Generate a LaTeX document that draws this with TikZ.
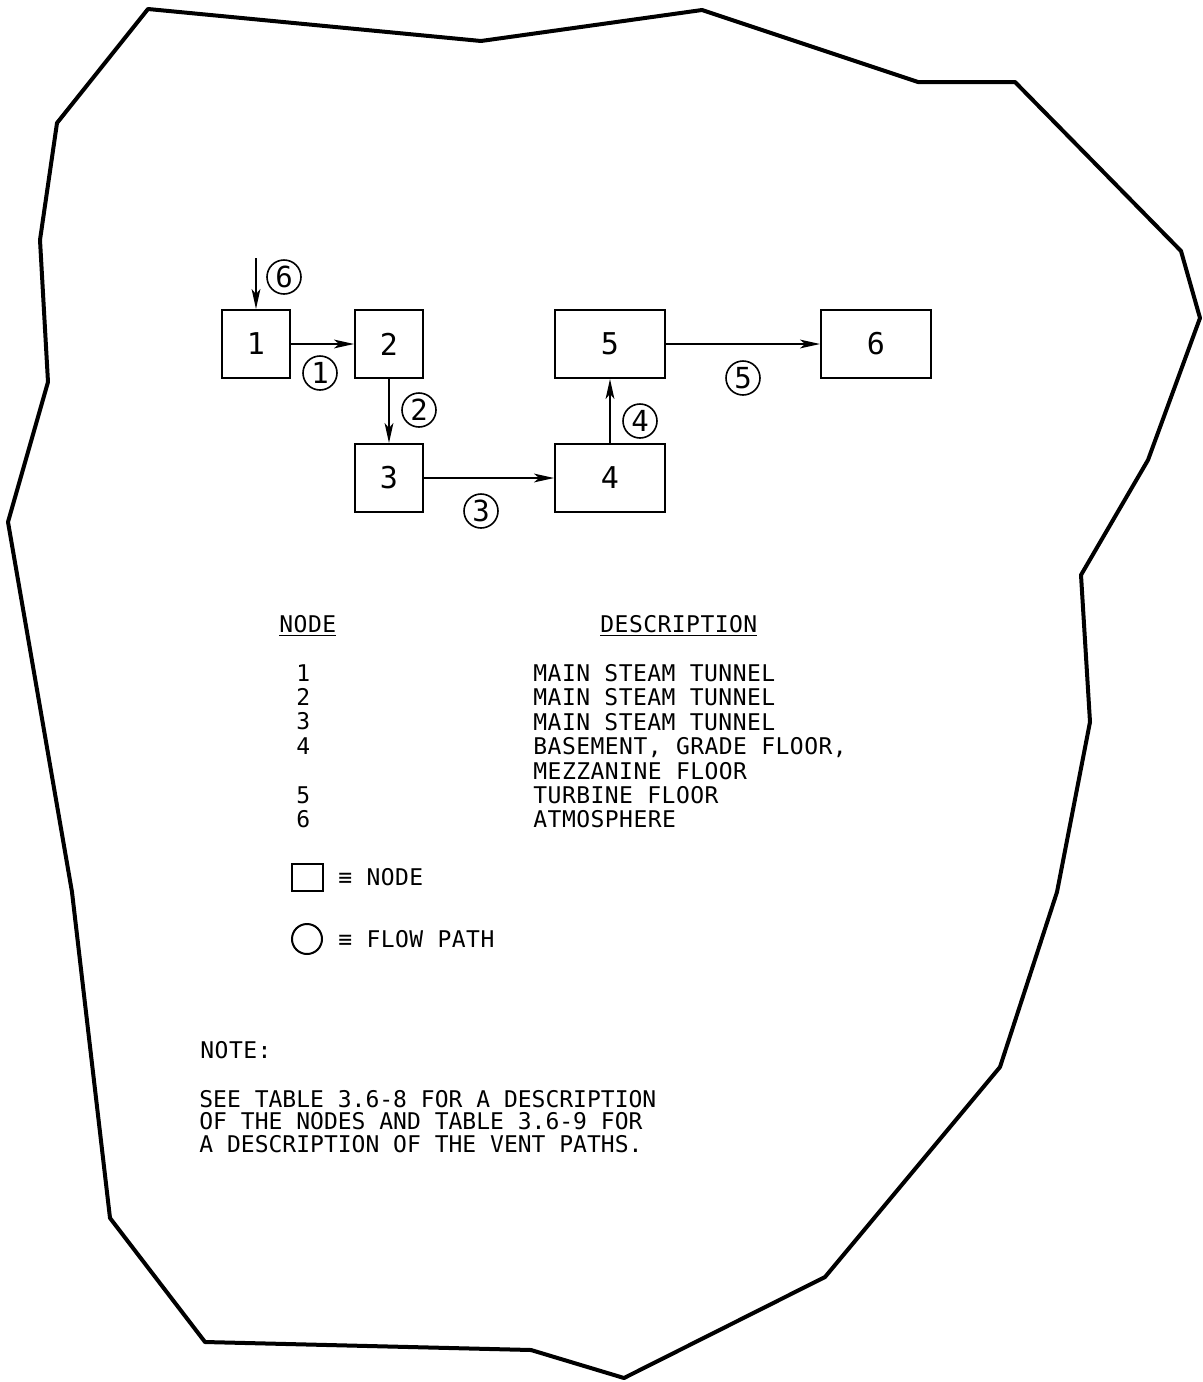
\documentclass[tikz,border=0pt]{standalone}
\usepackage{fontspec}
\setmainfont{DejaVu Sans Mono}[LetterSpace=2]
\newfontfamily\paraface{DejaVu Sans Mono}
\usetikzlibrary{arrows.meta}
\begin{document}
\begin{tikzpicture}[x=0.5pt,y=-0.5pt,
  box/.style={draw,line width=1pt,minimum width=34pt,minimum height=34pt,inner sep=0pt,font=\fontsize{15}{15}\selectfont},
  wbox/.style={box,minimum width=55pt},
  fp/.style={draw,circle,line width=0.8pt,minimum size=17pt,inner sep=0pt,font=\fontsize{14.5}{14.5}\selectfont},
  flow/.style={line width=0.8pt,-{Stealth[length=10pt,width=4.4pt,inset=2.5pt]}},
  txt/.style={inner sep=0pt,font=\fontsize{11.5}{12.2}\selectfont,align=left},
  outline/.style={line width=2pt,line join=round}
]
\useasboundingbox (0,0) rectangle (1203,1382);
% outer boundary
\draw[outline] (148,9) -- (481,41) -- (702,10) -- (918,82) -- (1015,82) -- (1181,251) -- (1200,318) -- (1148,460) -- (1081,575) -- (1090,722) -- (1057,892) -- (1000,1067) -- (825,1277) -- (624,1378) -- (531,1350) -- (205,1342) -- (110,1218) -- (72,892) -- (8,522) -- (48,382) -- (40,240) -- (57,123) -- cycle;

% nodes
\node[box] (n1) at (256,344) {1};
\node[box] (n2) at (389,344) {2};
\node[box] (n3) at (389,478) {3};
\node[wbox] (n4) at (610,478) {4};
\node[wbox] (n5) at (610,344) {5};
\node[wbox] (n6) at (876,344) {6};
\coordinate (in6) at (256,258);

% flow paths
\draw[flow] (in6) -- (n1.north);
\draw[flow] (n1) -- (n2);
\draw[flow] (n2) -- (n3);
\draw[flow] (n3) -- (n4);
\draw[flow] (n4) -- (n5);
\draw[flow] (n5) -- (n6);

\node[fp] (p6) at (284,277) {6};
\node[fp] (p1) at (320,373) {1};
\node[fp] (p2) at (419,410) {2};
\node[fp] (p3) at (481,511) {3};
\node[fp] (p4) at (640,421) {4};
\node[fp] (p5) at (743,378) {5};

% table
\node[txt,anchor=base west] (hN) at (279,632) {\underline{NODE}};
\node[txt,anchor=base west] (hD) at (600,632) {\underline{DESCRIPTION}};
\node[txt,anchor=north west] (nums) at (296,664) {1\\2\\3\\4\\[12.2pt]5\\6};
\node[txt,anchor=north west] (desc) at (533,664) {MAIN STEAM TUNNEL\\MAIN STEAM TUNNEL\\MAIN STEAM TUNNEL\\BASEMENT, GRADE FLOOR,\\MEZZANINE FLOOR\\TURBINE FLOOR\\ATMOSPHERE};

% legend
\node[draw,line width=1pt,minimum width=15.5pt,minimum height=13.5pt,inner sep=0pt] (lgbox) at (307,877) {};
\node[txt,anchor=west] (lgbt) at (338,877) {≡ NODE};
\node[draw,circle,line width=1pt,minimum size=15pt,inner sep=0pt] (lgc) at (307,939) {};
\node[txt,anchor=west] (lgct) at (338,939) {≡ FLOW PATH};

% note
\node[txt,anchor=base west] (note) at (200,1058) {NOTE:};
\node[txt,anchor=north west,font=\paraface\fontsize{11.5}{11.25}\selectfont] (para) at (199,1090) {SEE TABLE 3.6-8 FOR A DESCRIPTION\\OF THE NODES AND TABLE 3.6-9 FOR\\A DESCRIPTION OF THE VENT PATHS.};
\end{tikzpicture}
\end{document}
